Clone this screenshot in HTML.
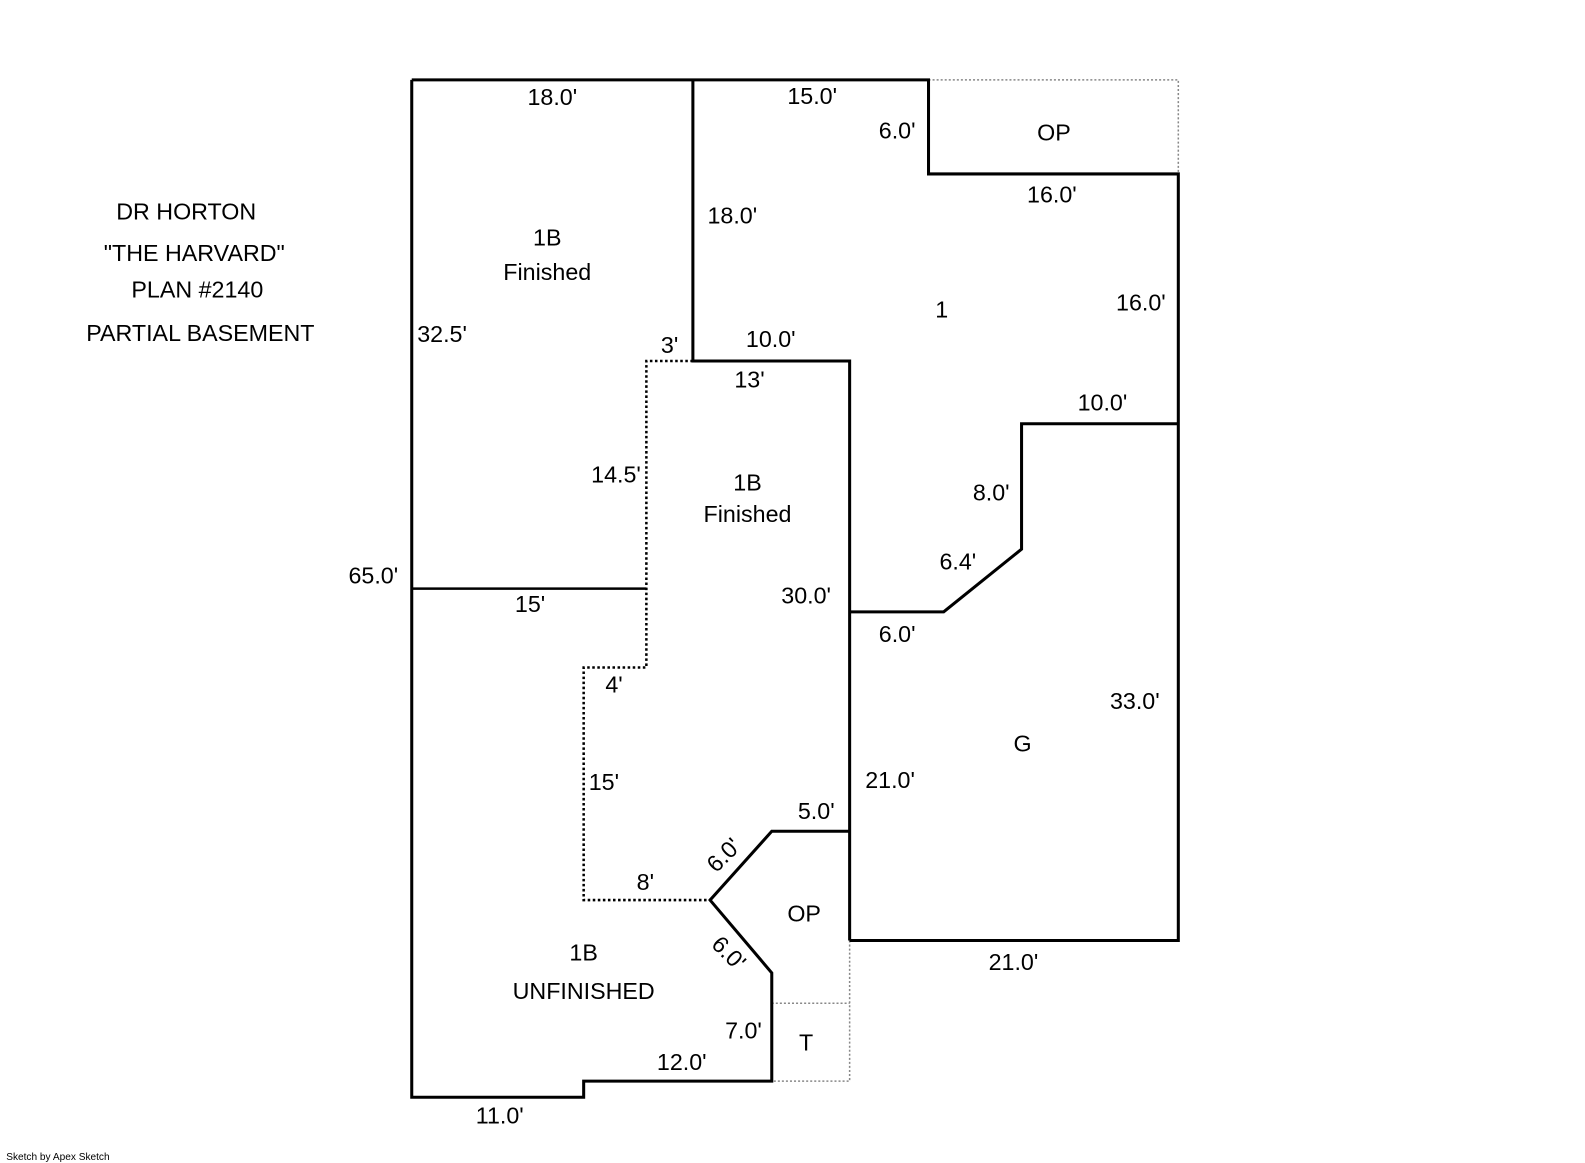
<!DOCTYPE html>
<html><head><meta charset="utf-8"><style>
html,body{margin:0;padding:0;background:#fff;}
svg{display:block;}
text{font-family:"Liberation Sans",Arial,sans-serif;font-size:23px;fill:#000;text-anchor:middle;}
</style></head><body>
<svg width="1585" height="1163" viewBox="0 0 1567 1150" xmlns="http://www.w3.org/2000/svg">
<rect width="1600" height="1200" fill="#fff"/>
<g fill="none" stroke="#888" stroke-width="1.5" stroke-dasharray="2,2">
<polyline points="918,79 1165,79 1165,172"/>
<line x1="763" y1="992" x2="840" y2="992"/>
<polyline points="840,930 840,1069 763,1069"/>
</g>
<g fill="none" stroke="#000" stroke-width="2.5" stroke-dasharray="2.5,2.5">
<polyline points="685,357 639,357 639,660 577,660 577,890 702,890"/>
</g>
<g fill="none" stroke="#000" stroke-width="3" stroke-linejoin="miter">
<polyline points="407,79 918,79 918,172 1165,172 1165,930 840,930"/>
<polyline points="685,79 685,357 840,357 840,930"/>
<polyline points="840,605 933,605 1010,543 1010,419 1165,419"/>
<polyline points="407,79 407,1085 577,1085 577,1069 763,1069 763,962 702,890 763,822 840,822"/>
</g>
<line x1="407" y1="582" x2="639" y2="582" stroke="#000" stroke-width="2.5"/>
<text x="184" y="217">DR HORTON</text>
<text x="192" y="258">"THE HARVARD"</text>
<text x="195" y="294">PLAN #2140</text>
<text x="198" y="337">PARTIAL BASEMENT</text>
<text x="546" y="104">18.0'</text>
<text x="803" y="103">15.0'</text>
<text x="887" y="137">6.0'</text>
<text x="1042" y="139">OP</text>
<text x="1040" y="200">16.0'</text>
<text x="724" y="221">18.0'</text>
<text x="541" y="243">1B</text>
<text x="541" y="277">Finished</text>
<text x="931" y="314">1</text>
<text x="1128" y="307">16.0'</text>
<text x="437" y="338">32.5'</text>
<text x="662" y="349">3'</text>
<text x="762" y="343">10.0'</text>
<text x="741" y="383">13'</text>
<text x="1090" y="406">10.0'</text>
<text x="609" y="477">14.5'</text>
<text x="739" y="485">1B</text>
<text x="739" y="516">Finished</text>
<text x="980" y="495">8.0'</text>
<text x="947" y="563">6.4'</text>
<text x="369" y="577">65.0'</text>
<text x="797" y="597">30.0'</text>
<text x="524" y="605">15'</text>
<text x="887" y="635">6.0'</text>
<text x="607" y="685">4'</text>
<text x="1122" y="701">33.0'</text>
<text x="1011" y="743">G</text>
<text x="880" y="779">21.0'</text>
<text x="597" y="781">15'</text>
<text x="807" y="810">5.0'</text>
<text x="716" y="853" transform="rotate(-45 716 846)">6.0'</text>
<text x="638" y="880">8'</text>
<text x="795" y="911">OP</text>
<text x="720" y="950" transform="rotate(45 720 943)">6.0'</text>
<text x="577" y="950">1B</text>
<text x="577" y="988">UNFINISHED</text>
<text x="1002" y="959">21.0'</text>
<text x="735" y="1027">7.0'</text>
<text x="797" y="1039">T</text>
<text x="674" y="1058">12.0'</text>
<text x="494" y="1111">11.0'</text>
<text x="6" y="1147" style="font-size:10px;text-anchor:start;">Sketch by Apex Sketch</text>
</svg>
</body></html>
